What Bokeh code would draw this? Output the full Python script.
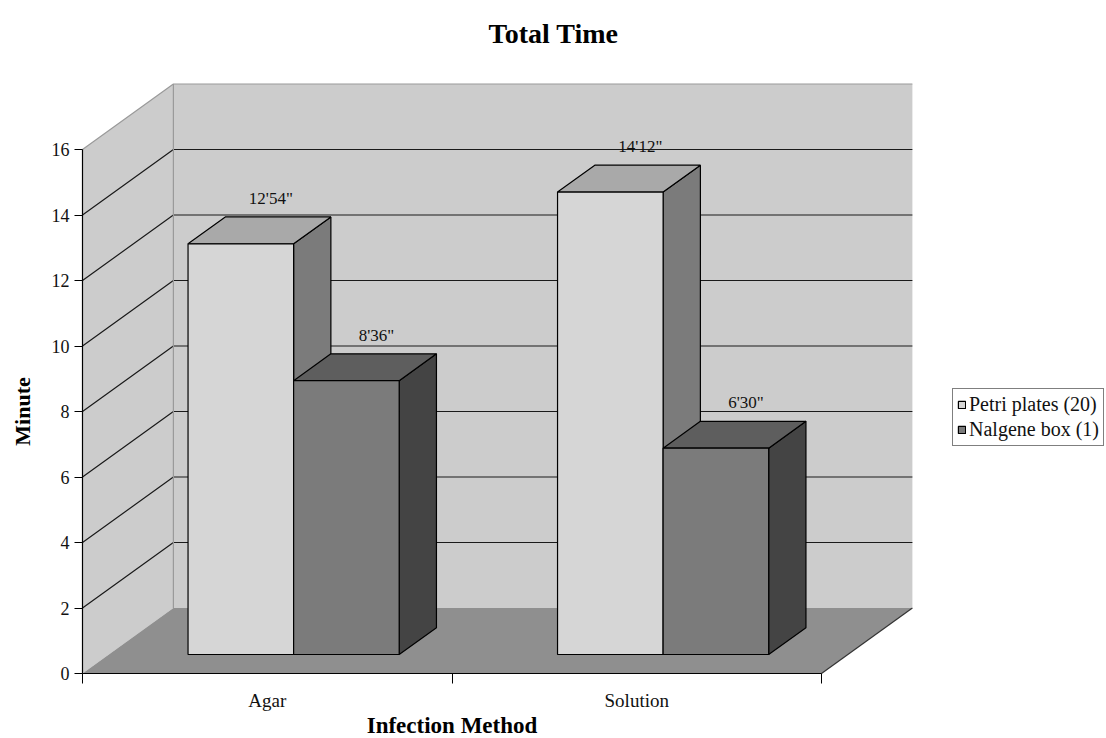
import math

from bokeh.plotting import figure
from bokeh.models import Range1d, FixedTicker, Legend, LegendItem, Label, LinearAxis
from bokeh.core.properties import value
from bokeh.embed import file_html
from bokeh.resources import INLINE

# ---- data -------------------------------------------------------------
categories = ["Agar", "Solution"]
series_names = ["Petri plates (20)", "Nalgene box (1)"]
petri_minutes = [12.54, 14.12]
nalgene_minutes = [8.36, 6.30]
y_ticks = [0, 2, 4, 6, 8, 10, 12, 14, 16]

# ---- styling ----------------------------------------------------------
SERIF = "Liberation Serif"
face_colors = {
    "Petri plates (20)": ("#d6d6d6", "#a9a9a9", "#7b7b7b"),  # front, top, side
    "Nalgene box (1)": ("#7b7b7b", "#5e5e5e", "#444444"),
}
WALL = "#cccccc"
FLOOR = "#8f8f8f"
EDGE = "#9a9a9a"

# oblique projection of the depth direction, in data units
DEPTH_X = 0.246
DEPTH_Y = 2.0
Y_MAX = 16
BAR_FRONT, BAR_BACK = 0.29, 0.70
GAP_WIDTH = 1.5          # gap between groups, relative to one bar
LABEL_DEPTH = 0.62

# canvas geometry: the plot frame fills the whole canvas and the axes
# are pinned at x = 0 and y = 0
CANVAS_W, CANVAS_H = 1106, 738
PX_PER_X = 369.5
PX_PER_Y = 32.75
ORIGIN_X, ORIGIN_Y = 82, 673   # pixel position of the (0, 0) corner


def proj(x, y, d):
    return x + d * DEPTH_X, y + d * DEPTH_Y


def minutes_label(v):
    m = int(v)
    s = round((v - m) * 100)
    return f"{m}'{s:02d}\""


p = figure(
    frame_width=CANVAS_W, frame_height=CANVAS_H,
    x_range=Range1d(-ORIGIN_X / PX_PER_X, (CANVAS_W - ORIGIN_X) / PX_PER_X),
    y_range=Range1d(-(CANVAS_H - ORIGIN_Y) / PX_PER_Y, ORIGIN_Y / PX_PER_Y),
    x_axis_location=None, y_axis_location=None,
    min_border=0, output_backend="svg", toolbar_location=None, title=None,
)
p.outline_line_color = None
p.background_fill_color = "white"
p.border_fill_color = "white"
p.grid.visible = False

n_cat = len(categories)

# ---- walls and floor --------------------------------------------------
side = [proj(0, 0, 0), proj(0, Y_MAX, 0), proj(0, Y_MAX, 1), proj(0, 0, 1)]
back = [proj(0, 0, 1), proj(0, Y_MAX, 1), proj(n_cat, Y_MAX, 1), proj(n_cat, 0, 1)]
floor = [proj(0, 0, 0), proj(n_cat, 0, 0), proj(n_cat, 0, 1), proj(0, 0, 1)]
p.patches(
    xs=[[q[0] for q in side], [q[0] for q in back]],
    ys=[[q[1] for q in side], [q[1] for q in back]],
    fill_color=WALL, line_color=None,
)
p.patch([q[0] for q in floor], [q[1] for q in floor], fill_color=FLOOR, line_color=None)

# gridlines across the side wall and the back wall
gx, gy = [], []
for v in y_ticks[1:-1]:
    a, b, c = proj(0, v, 0), proj(0, v, 1), proj(n_cat, v, 1)
    gx.append([a[0], b[0], c[0]])
    gy.append([a[1], b[1], c[1]])
p.multi_line(gx, gy, line_color="#1a1a1a", line_width=1.2)

# wall edges
t0, t1, t2 = proj(0, Y_MAX, 0), proj(0, Y_MAX, 1), proj(n_cat, Y_MAX, 1)
b1 = proj(0, 0, 1)
p.line([t0[0], t1[0], t2[0]], [t0[1], t1[1], t2[1]], line_color=EDGE, line_width=1.2)
p.line([b1[0], t1[0]], [b1[1], t1[1]], line_color=EDGE, line_width=1.2)
f0, f1 = proj(n_cat, 0, 0), proj(n_cat, 0, 1)
p.line([f0[0], f1[0]], [f0[1], f1[1]], line_color="#333333", line_width=1.2)

# ---- bars -------------------------------------------------------------
n_ser = len(series_names)
bar_w = 1.0 / (n_ser + GAP_WIDTH)
gap = bar_w * GAP_WIDTH / 2
legend_items = []
label_x, label_y, label_txt = [], [], []
for j, (name, vals) in enumerate(zip(series_names, [petri_minutes, nalgene_minutes])):
    front_c, top_c, side_c = face_colors[name]
    fx, fy, tx, ty, sx, sy = [], [], [], [], [], []
    for i, v in enumerate(vals):
        x0 = i + gap + j * bar_w
        x1 = x0 + bar_w
        fr = [proj(x0, 0, BAR_FRONT), proj(x0, v, BAR_FRONT), proj(x1, v, BAR_FRONT), proj(x1, 0, BAR_FRONT)]
        tp = [proj(x0, v, BAR_FRONT), proj(x0, v, BAR_BACK), proj(x1, v, BAR_BACK), proj(x1, v, BAR_FRONT)]
        sd = [proj(x1, 0, BAR_FRONT), proj(x1, v, BAR_FRONT), proj(x1, v, BAR_BACK), proj(x1, 0, BAR_BACK)]
        fx.append([q[0] for q in fr]); fy.append([q[1] for q in fr])
        tx.append([q[0] for q in tp]); ty.append([q[1] for q in tp])
        sx.append([q[0] for q in sd]); sy.append([q[1] for q in sd])
        lx, ly = proj((x0 + x1) / 2, v, LABEL_DEPTH)
        label_x.append(lx); label_y.append(ly); label_txt.append(minutes_label(v))
    p.patches(sx, sy, fill_color=side_c, line_color="black", line_width=1.2)
    p.patches(tx, ty, fill_color=top_c, line_color="black", line_width=1.2)
    r = p.patches(fx, fy, fill_color=front_c, line_color="black", line_width=1.2)
    legend_items.append(LegendItem(label=name, renderers=[r]))

p.text(
    x=label_x, y=label_y, text=label_txt, y_offset=-24,
    text_align="center", text_baseline="middle",
    text_font=value(SERIF), text_font_size="17px", text_color="#111111",
)

# ---- axes -------------------------------------------------------------
xa = LinearAxis(fixed_location=0, bounds=(0, n_cat))
xa.ticker = FixedTicker(ticks=[i + 0.5 for i in range(n_cat)], minor_ticks=list(range(n_cat + 1)))
xa.major_label_overrides = {i + 0.5: c for i, c in enumerate(categories)}
xa.major_tick_out = 0
xa.major_tick_in = 0
xa.minor_tick_out = 10
xa.minor_tick_in = 0
xa.major_label_standoff = 6
xa.major_label_text_font_size = "19px"

ya = LinearAxis(fixed_location=0, bounds=(0, Y_MAX))
ya.ticker = FixedTicker(ticks=y_ticks, minor_ticks=[])
ya.major_tick_out = 8
ya.major_tick_in = 0
ya.minor_tick_out = 0
ya.minor_tick_in = 0
ya.major_label_standoff = 5
ya.major_label_text_font_size = "18px"

for ax in (xa, ya):
    ax.axis_line_color = "black"
    ax.axis_line_width = 1.2
    ax.major_tick_line_color = "black"
    ax.minor_tick_line_color = "black"
    ax.major_label_text_font = SERIF
    ax.major_label_text_color = "#111111"
p.add_layout(xa, "below")
p.add_layout(ya, "left")

# ---- title and axis titles ---------------------------------------------
p.add_layout(Label(
    x=(CANVAS_W / 2 - ORIGIN_X) / PX_PER_X, y=(ORIGIN_Y - 33) / PX_PER_Y, text="Total Time",
    text_align="center", text_baseline="middle",
    text_font=SERIF, text_font_size="28px", text_font_style="bold", text_color="black",
))
p.add_layout(Label(
    x=n_cat / 2, y=-52 / PX_PER_Y, text="Infection Method",
    text_align="center", text_baseline="middle",
    text_font=SERIF, text_font_size="23px", text_font_style="bold", text_color="black",
))
p.add_layout(Label(
    x=-60 / PX_PER_X, y=Y_MAX / 2, text="Minute", angle=math.pi / 2,
    text_align="center", text_baseline="middle",
    text_font=SERIF, text_font_size="22px", text_font_style="bold", text_color="black",
))

# ---- legend -----------------------------------------------------------
legend = Legend(
    items=legend_items, location=(870 + ORIGIN_X, CANVAS_H - 446),
    label_text_font=SERIF, label_text_font_size="20px", label_text_color="#111111",
    glyph_width=9, glyph_height=9, spacing=2, padding=4, margin=0,
    label_standoff=3, label_height=21,
    border_line_color="black", border_line_width=1,
    background_fill_color="white", background_fill_alpha=1,
)
p.add_layout(legend)

open("out.html", "w").write(file_html(p, INLINE))
